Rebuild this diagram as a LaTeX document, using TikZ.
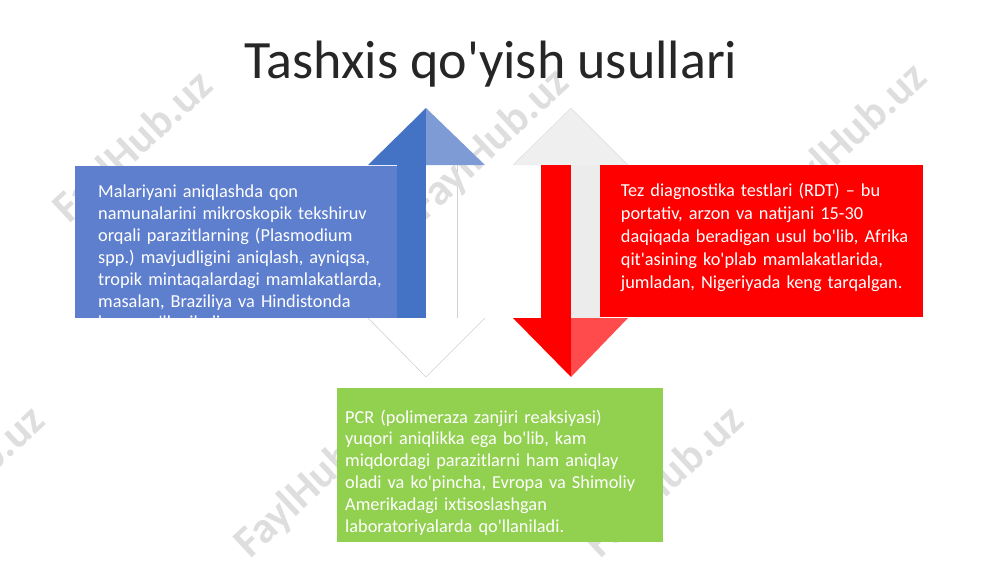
\documentclass[tikz,border=0pt]{standalone}
\usepackage{fontspec}
\newfontfamily\cf{Carlito}
\definecolor{blueD}{HTML}{4472C4}
\definecolor{blueL}{HTML}{7F9BD6}
\definecolor{blueBox}{HTML}{5E7FCE}
\definecolor{redL}{HTML}{FF4B4B}
\definecolor{grayHead}{HTML}{EFEFEF}
\definecolor{grayShaft}{HTML}{ECECEC}
\definecolor{greenBox}{HTML}{92D050}
\definecolor{titlegray}{HTML}{262626}
\definecolor{wmgray}{HTML}{DEDEDE}
\begin{document}
\frenchspacing
\begin{tikzpicture}[x=1pt,y=-1pt,
  box/.style={draw=none,rectangle,inner sep=0pt,anchor=north west},
  bodytext/.style={inner sep=0pt,anchor=base west,text=white,align=left,text width=340pt},
  wmark/.style={font=\cf\bfseries\fontsize{44}{44}\selectfont,text=wmgray,rotate=43,inner sep=0pt},
  shadowline/.style={draw=black!18,line width=0.6pt}]
\useasboundingbox (0,0) rectangle (1000,562);
% white parts first
\fill[white] (426,165) rectangle (457,318);
\draw[shadowline] (457,165) -- (457,318);
\filldraw[fill=white,shadowline] (368,318) -- (426,377) -- (485,318);
\filldraw[fill=grayHead,draw=black!12,line width=0.6pt] (513,165) -- (571,108) -- (628,165);
\fill[grayShaft] (571,165) rectangle (600,318);
% watermarks
\node[wmark] (wm1) at (134,148) {FaylHub.uz};
\node[wmark] (wm2) at (490,145) {FaylHub.uz};
\node[wmark] (wm3) at (848,140) {FaylHub.uz};
\node[wmark] (wm4) at (-34,483) {FaylHub.uz};
\node[wmark] (wm5) at (315,483) {FaylHub.uz};
\node[wmark] (wm6) at (665,483) {FaylHub.uz};
% title
\node[font=\cf\fontsize{54}{60}\selectfont,text=titlegray,anchor=base,inner sep=0pt] (title) at (491,78) {Tashxis qo'yish usullari};
% left arrow coloured parts
\fill[blueD] (368,165) -- (426,108) -- (426,165) -- cycle;
\fill[blueL] (426,108) -- (485,165) -- (426,165) -- cycle;
\fill[blueD] (397,165) rectangle (426,318);
% right arrow coloured parts
\fill[red] (541,165) rectangle (571,318);
\fill[red] (513,318) -- (571,318) -- (571,377) -- cycle;
\fill[redL] (571,318) -- (628,318) -- (571,377) -- cycle;
% boxes
\node[box,fill=blueBox,minimum width=322pt,minimum height=152pt] (bluebox) at (75,166) {};
\node[box,fill=red,minimum width=323pt,minimum height=152pt] (redbox) at (600,165) {};
\node[box,fill=greenBox,minimum width=326pt,minimum height=154pt] (greenbox) at (337,388) {};
% texts
\begin{scope}
\clip (bluebox.north west) rectangle (bluebox.south east);
\node[bodytext,font=\cf\fontsize{18.3}{21.9}\selectfont] (bluetext) at (98,197.5) {Malariyani aniqlashda qon\\
namunalarini mikroskopik tekshiruv\\
orqali parazitlarning (Plasmodium\\
spp.) mavjudligini aniqlash, ayniqsa,\\
tropik mintaqalardagi mamlakatlarda,\\
masalan, Braziliya va Hindistonda\\
keng qo'llaniladi.};
\end{scope}
\node[bodytext,font=\cf\fontsize{18.3}{23}\selectfont] (redtext) at (620.7,196) {Tez diagnostika testlari (RDT) – bu\\
portativ, arzon va natijani 15-30\\
daqiqada beradigan usul bo'lib, Afrika\\
qit'asining ko'plab mamlakatlarida,\\
jumladan, Nigeriyada keng tarqalgan.};
\node[bodytext,font=\cf\fontsize{18.3}{21.8}\selectfont] (greentext) at (345,423) {PCR (polimeraza zanjiri reaksiyasi)\\
yuqori aniqlikka ega bo'lib, kam\\
miqdordagi parazitlarni ham aniqlay\\
oladi va ko'pincha, Evropa va Shimoliy\\
Amerikadagi ixtisoslashgan\\
laboratoriyalarda qo'llaniladi.};
\end{tikzpicture}
\end{document}
